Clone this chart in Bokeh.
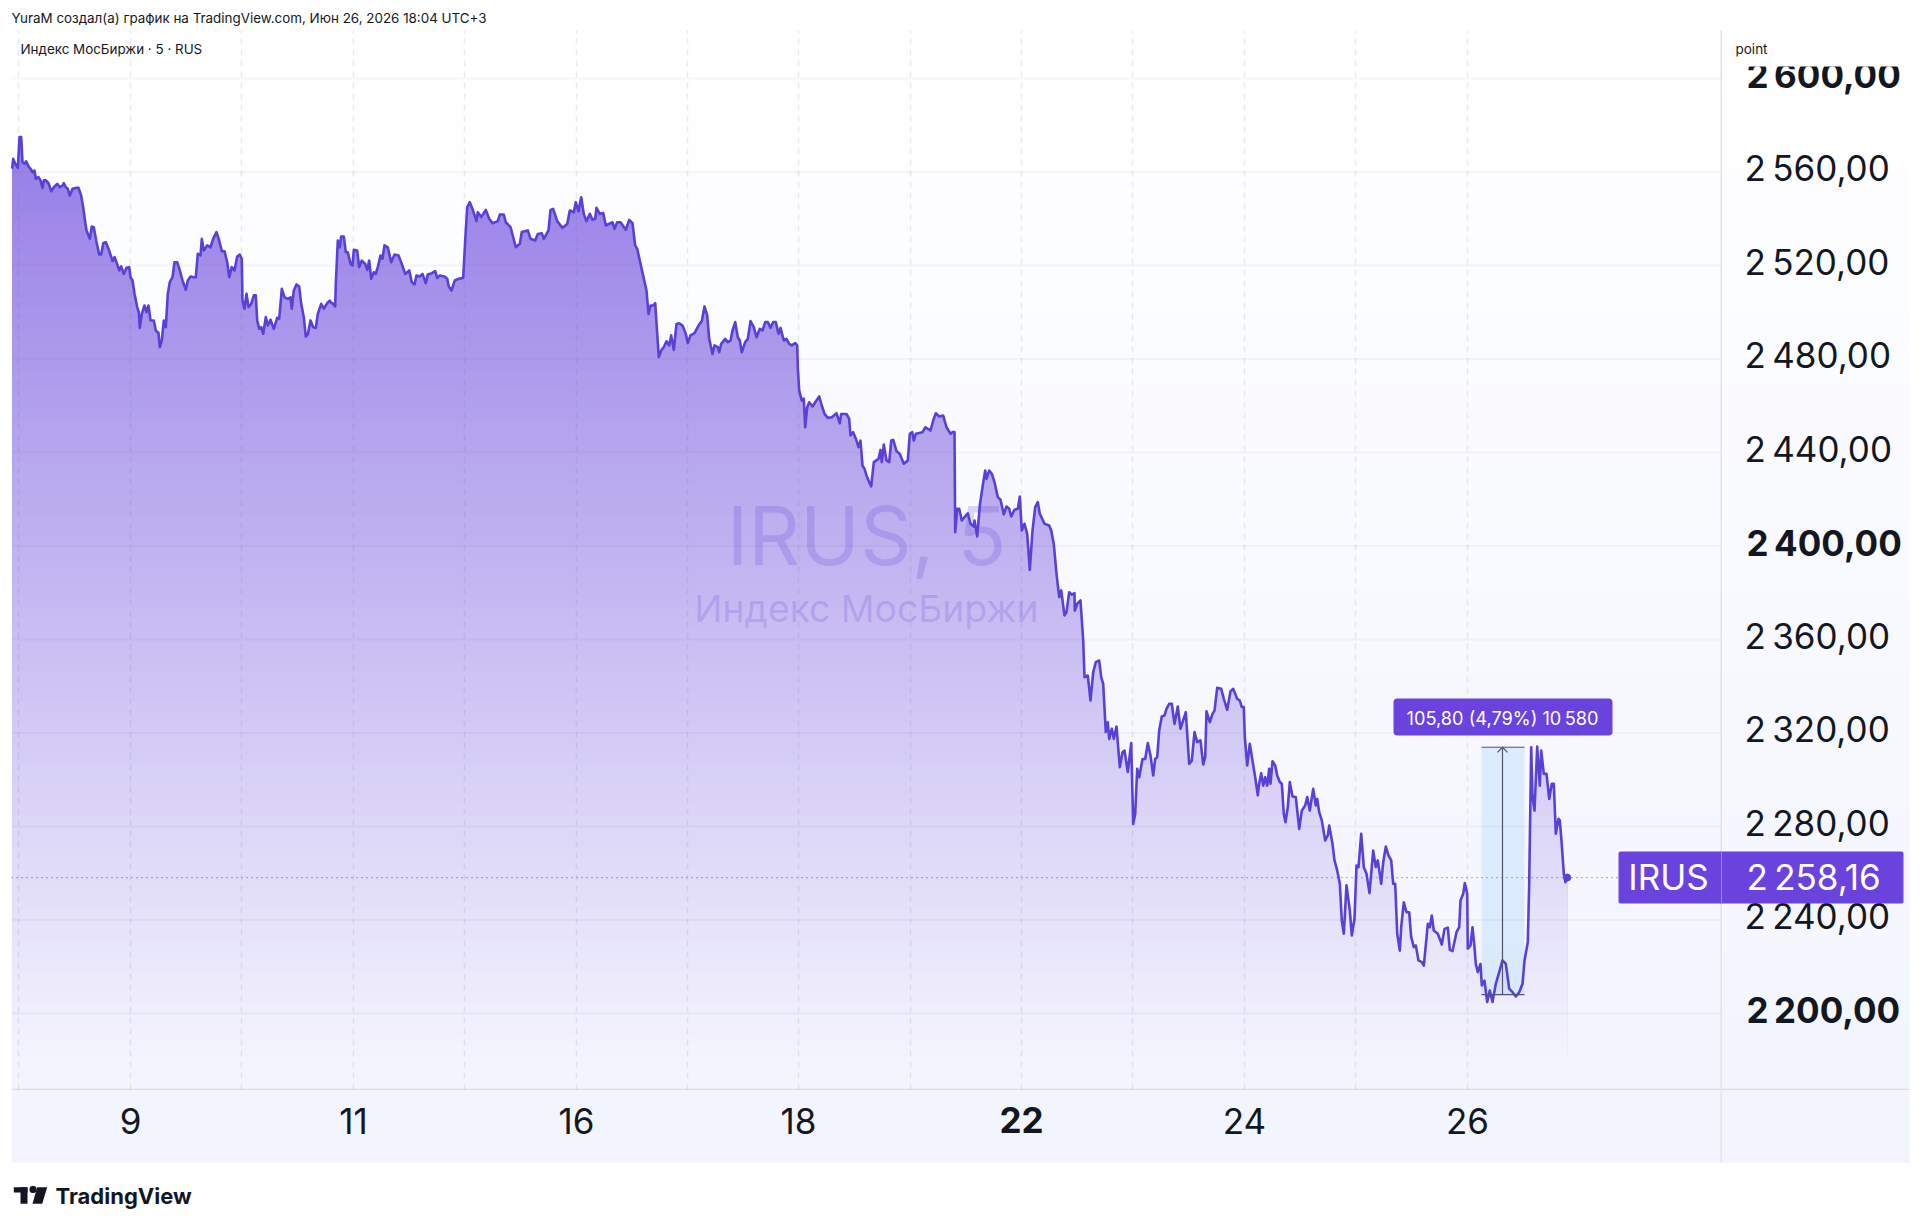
import numpy as np
from bokeh.embed import file_html
from bokeh.models import BoxAnnotation, FixedTicker, Label, Range1d, PolyAnnotation
from bokeh.plotting import figure
from bokeh.resources import INLINE

# ---------- data ----------
bar_pos = [
11.7,12.7,14.7,17.3,19,20.7,22,24,25.7,28,30,32,34,35.3,38,40,42,43.3,45.3,48,50.7,53.3,56.7,59.3,62,63.3,65.3,67.3,69.3,72,75.3,78,80.7,82.7,84,86,89.3,91.3,93.3,96,98.7,100.7,102.7,105.3,108.7,112,114,116,118.7,120.7,123.3,126,128.7,130,132,134,136.7,138.3,139.3,141.3,144,146,148,150,153.3,155.3,158,159.3,161.3,163.3,165.3,167.3,169.3,172,174,176.7,179.3,182,185.3,187.3,190,193.3,195.3,197.3,200,201.3,203.3,206.7,210,212.7,216,218.7,221.3,224,226.7,228.7,231.3,234,236.7,239.3,241.3,242,244,246,248,250.7,253.3,255.3,256.7,258.7,260.7,262.7,265.3,267.3,270,273.3,276.7,278.7,281.3,284,287.3,290,291.3,293.3,296,298.7,300.7,303.3,305.3,307.3,310,312.7,315.3,317.3,320.7,323.3,326.7,329.3,
330,332.7,334.7,335.3,337.3,339.3,340.7,343.3,345.3,347.3,350,352,353.3,356.7,358.7,361.3,364.7,366.7,368.7,370.7,373.3,375.3,377.3,380,382,384,387.3,390.7,394,398,401.3,404.7,408.7,411.3,414,416,419.3,422,425.3,427.3,431.3,434.7,436.7,439.3,444,446.7,448.3,451,454.3,458.3,462.7,464.7,466.7,469.3,472,476,477.3,480.7,485.3,488.7,492,497.3,499.3,503.3,505.3,510,512.7,515.3,519.3,521.3,527.3,530,534.7,537.3,541.3,543.3,548,550,552.7,556.7,562,566.7,569.3,573.3,575.3,578,580.7,583.3,586,589.3,592,594.7,596,599.3,602.7,605.3,612,614,616.7,620,625.3,628.7,632,634.7,636.7,639.3,
646,648,650,652.7,654.7,656.7,658.3,660.7,663.3,666,668.7,670.7,673.3,676,678.7,682,685.3,687.3,690,694,698,701.3,704,706.7,708.7,712,714,717.3,718.7,720.7,724.7,727.3,730,732,734.7,737.3,739.3,741.3,744.7,747.3,750,753.3,756,759.3,762,764.7,767.3,770,772.7,775.3,778,780,783.3,786,788.7,791.3,794.7,796.7,797.3,798.7,801.3,803.3,804.7,806.7,808.7,812,814.7,818.7,821.3,824,827.3,831.3,836,839.3,840.7,846,848.7,850,852.7,856,858,860,862,864,866,868.7,870.7,873.3,878,880,881.3,883.3,886,888.7,890.7,892.7,896,899.3,903.3,907.3,909.3,911.7,913.3,915.3,922,925,930,932.7,935.3,938.7,942.7,946,950,952,954,
954.7,956.7,958.7,961.3,965.3,967.3,970,973.3,974,976.7,979.3,982,984.7,986,988.7,991.3,994,997.3,1000,1003.3,1006,1008.7,1010.7,1014,1017.3,1019.3,1021.3,1024,1026.7,1029.3,1032,1034.7,1037.3,1039.3,1044,1048.7,1050.7,1053.3,1056,1058.7,1060.7,1064,1066,1068.7,1071.3,1074,1074.3,1076.7,1080,1082.7,1084,1087.3,1090,1092.7,1095.3,1098.7,1100.7,1102.7,1105.3,1107.3,1108.7,1111.3,1113.3,1116,1119.3,1122,1124,1127.3,1130.7,1132.7,1134.7,1136.7,1138.7,1142,1144.7,1147.3,1150,1152.7,1154.7,1156.7,1158.7,1161.3,1164,1166,1168.7,1171.3,1174,1177.3,1180,1185.3,1188.7,1191.3,1194,1196.7,1200,1202.7,1204.7,1206,1209.3,1212,1214,1216.7,1220.7,1223.3,1226.7,1230,1232.7,1236.7,1239.3,1241.3,1243.3,1244.3,1246.7,1249.3,1252,1254.7,1257.3,
1258.7,1260.7,1262.7,1264.7,1266.7,1268.7,1270,1272,1274.7,1276.7,1279.3,1281.3,1283.3,1285,1287.3,1289.3,1292,1295.3,1298.7,1301.3,1304.7,1306.7,1309.3,1312.7,1315.3,1316.7,1318.7,1321.3,1324.7,1327.3,1328.7,1332,1334,1336.7,1339.3,1341.3,1343.3,1346,1349.3,1351.3,1354,1356,1358,1360.7,1363.3,1366,1369,1372.7,1375.3,1377.3,1380.7,1382.7,1385.3,1388,1390.7,1392.7,1394.7,1396.7,1399.3,1400.7,1403.3,1406,1408.7,1410.7,1413.3,1415.3,1418,1421.3,1423.3,1425.3,1427.3,1429.3,1431.3,1433.3,1437.3,1441.3,1444,1447.3,1449.3,1452,1456,1458.7,1460,1462.7,1464.3,1466.7,1467.3,1470,1472,1474,1475.3,1477.3,1480,1481.3,1484,1486.7,1489.3,1492,1495.3,1498.7,1502,1505.3,1508.7,1512,1515.3,1518.7,1522,1524,1527.3,1528.7,1530.7,1532,1534,1536.7,1539.3,1540.7,1543.3,1546,1548.7,1551.3,1553.3,1555.3,1558,1559.3,1561,1563.3,1565,1566.7]
price = [
2561.4,2565.6,2563.5,2561.8,2574.9,2574.9,2564.2,2563.5,2564.6,2562.4,2561.4,2559.9,2560.6,2557.1,2557.8,2556.4,2553.2,2556.4,2556.4,2555.2,2551.8,2553.5,2554.9,2553.5,2554.2,2555.2,2553.5,2552.8,2549.9,2552.8,2553.2,2553.2,2549.9,2544.7,2540.7,2535,2531.4,2536.7,2536.4,2530,2524.7,2524.7,2529.5,2530,2526.4,2521.9,2523.6,2521.4,2517.9,2519.6,2516.4,2519,2519.3,2515,2513.6,2507.9,2502.2,2500,2493.3,2499.3,2502.9,2500,2502.9,2496.5,2496.5,2492.2,2491.1,2485.1,2487.9,2496.5,2493.6,2507.9,2512.9,2515,2521.4,2521.4,2517.9,2513.6,2509.6,2513.6,2515.3,2515,2515,2525,2524.3,2531.4,2526.4,2528.6,2527.8,2531.4,2534.3,2530.7,2526.1,2526.1,2521.4,2515,2519.3,2517.9,2523.8,2524.7,2522.8,2505,2501.5,2507.9,2502.2,2503.6,2507.2,2507.2,2496.5,2492.9,2493.6,2490.8,2497.9,2494.3,2496.8,2492.9,2497.6,2497.2,2510,2506.4,2505.7,2506.4,2501.5,2509.3,2511.9,2511,2503.6,2497.9,2489.6,2490.5,2496.5,2493.6,2493.3,2499.3,2503.6,2501.5,2503.9,2505,
2504.3,2503.6,2502.5,2512.2,2530.7,2527.8,2532.4,2532.4,2525.7,2525.7,2520.7,2520,2526.7,2526.4,2519.3,2522.1,2520.7,2518.1,2522.1,2514.3,2517.1,2516.4,2519.3,2524.3,2522.9,2528.6,2527.8,2521.4,2524.7,2524.3,2520.7,2516.4,2517.9,2512.9,2511.9,2515.7,2515.3,2516.4,2512.4,2516.2,2516.7,2517.6,2514.7,2515.7,2515.3,2514.3,2511,2509.3,2513.6,2514.3,2514.7,2530.7,2544.9,2547.1,2544.2,2539,2542.8,2540.7,2543.8,2540,2538.1,2539,2541.8,2541.8,2538.5,2536.4,2532.1,2527.8,2529.3,2534.3,2535,2531.4,2530.7,2533.5,2533.8,2531.4,2535,2543.8,2544.2,2539,2536.1,2537.8,2543.5,2542.8,2547.1,2543.2,2549.2,2542.1,2539,2542.1,2539.5,2540,2544.7,2542.1,2542.4,2537.1,2538.5,2535.7,2538.5,2538.5,2535.3,2539.5,2538.1,2528.6,2527.1,2522.1,
2509.3,2499.3,2502.9,2502.9,2503.9,2490.8,2480.8,2483.6,2485.1,2487.6,2485.8,2490.1,2483.9,2495,2495.3,2494.3,2490.8,2486.8,2490.1,2491.1,2494.3,2496.2,2502.5,2498.6,2488.6,2482.2,2485.8,2485.1,2482.9,2486.5,2488.6,2487.2,2487.9,2492.2,2495.8,2489.3,2487.9,2482.9,2487.2,2488.6,2496.2,2493.6,2489.3,2492.9,2492.2,2495.8,2495.8,2493.3,2495.8,2495.8,2490.8,2493.3,2487.9,2488.6,2486.5,2485.8,2486.8,2485.8,2476.5,2466.5,2462.2,2463,2450.8,2459.4,2461.5,2459.7,2461.5,2464,2460.1,2456.5,2454.8,2455.1,2456.8,2452.5,2456.5,2456.5,2454.4,2447.3,2448.7,2445.1,2442.3,2445.1,2434.4,2433,2430.2,2427.3,2425.5,2435.9,2437.3,2441.1,2435.9,2443.4,2436.6,2435.9,2445.1,2445.4,2440.6,2439.4,2435.2,2436.6,2448,2448.7,2445.1,2448,2448.7,2450.8,2449.4,2453.7,2456.8,2455.4,2455.8,2450.8,2448,2448.7,2448.7,
2405.9,2415.9,2415.9,2410.9,2413,2414,2409.5,2408.3,2410.9,2404.1,2417.3,2425.2,2432.3,2428.7,2432.3,2430.9,2427.3,2420.9,2419.8,2413.5,2416.9,2415.9,2412.6,2415.5,2415.9,2421.2,2406.6,2409.5,2405.2,2389.8,2406.6,2416.6,2418.8,2413.8,2409.5,2408.8,2406.6,2400.9,2388.1,2378.1,2381,2370.3,2371.7,2380.2,2379.2,2379.8,2372.4,2375.3,2376.7,2359.6,2343.9,2344.6,2333.9,2346,2350.3,2351,2343.9,2341,2320.4,2324.6,2317.5,2321.8,2317.5,2322.8,2305.4,2311.8,2312.5,2303.3,2315.7,2281.1,2285.4,2304.7,2301.1,2308.9,2308.9,2315.7,2310.4,2301.8,2308.9,2309.7,2321.1,2327.1,2327.5,2330.3,2332.5,2332.5,2323.9,2331.3,2321.8,2328.9,2306.8,2308.2,2320.4,2316.1,2316.8,2306.5,2309.7,2329.3,2324.6,2328.2,2329.6,2339.3,2338.9,2334.6,2329.9,2337.9,2338.9,2334.6,2333.9,2331.1,2331.1,2318.2,2306.1,2315.4,2308.2,2301.1,2293.3,
2298.3,2302.8,2297.5,2301.1,2297.5,2304.7,2298.3,2307.9,2306.1,2301.8,2299,2298.3,2285.4,2281.8,2288.3,2299,2292.8,2292.6,2279,2286.8,2289,2292.6,2286.8,2296.1,2289,2291.8,2286.1,2282.6,2274,2276.2,2280.4,2272.6,2265.5,2261.2,2255.5,2239.8,2234.1,2254.8,2244.1,2233.4,2240.5,2263.3,2262.6,2276.9,2262.6,2259.8,2251.5,2269.7,2262.6,2265.5,2255.5,2264.7,2271.4,2267.6,2265.5,2255.5,2255.5,2234.1,2226.9,2236.9,2247.6,2243.3,2243.3,2232.7,2228.4,2229.1,2222.7,2222,2220.5,2229.1,2238.4,2236.9,2241.9,2235.5,2234.1,2229.5,2236.2,2236.7,2227.2,2226.7,2234.8,2236.9,2248.3,2251.2,2255.8,2251.2,2227.7,2229.1,2236.9,2228.4,2221.2,2217.7,2221.2,2212,2214.1,2204.9,2209.8,2204.9,2212.7,2217.7,2222.7,2221.2,2210.6,2209.1,2207.3,2209.1,2212.7,2222.7,2230.5,2255.5,2313.9,2292.6,2286.8,2314.2,2297.5,2312.5,2302.5,2302.5,2291.8,2298.3,2298.3,2276.9,2283.3,2282.6,2274,2259.8,2256.2,2258.16]
last_price = 2258.16
price_ticks = [2560, 2520, 2480, 2440, 2360, 2320, 2280, 2240]
price_ticks_bold = [2600, 2400, 2200]
day_ticks = [130, 353, 576, 798, 1244, 1467]
day_labels = ["9", "11", "16", "18", "24", "26"]
day_tick_bold = 1021
day_label_bold = "22"
half_ticks = [18, 241, 464, 687, 910, 1132, 1355]
measure_low, measure_high = 2208.1, 2313.9
measure_left, measure_mid, measure_right = 1481, 1502, 1524

# ---------- layout helpers ----------
PX = 2.3375
LABEL_LIFT = 1.5                # price-scale labels sit slightly above their grid lines
def py(y):                      # canvas pixel row -> price
    return 2600 - (y - 78) / PX
def ypx(v):                     # price -> canvas pixel row
    return 78 + (2600 - v) * PX
def money(v):
    return f"{v:,.2f}".replace(",", "\u202f").replace(".", ",")

INK = "#131722"
FONT = "Inter"
PURPLE = "#6a42de"
LINE = "#5a41d6"
RIGHT = 1720                    # price scale position
BOTTOM = py(1089)               # time scale position
PANEL_TOP = py(30)

# the frame fills the page; both axes are pinned inside it with fixed_location
p = figure(width=1912, height=1221, output_backend="svg", toolbar_location=None,
           x_range=Range1d(0, 1912), y_range=Range1d(py(1221), py(0)),
           y_axis_location="right", min_border=0,
           background_fill_color=None, border_fill_color="white", outline_line_color=None)
p.grid.visible = False

def box(l, r, t, b, color, level="overlay", **kw):
    p.add_layout(BoxAnnotation(left=l, right=r, top=t, bottom=b, left_units="canvas", right_units="canvas",
                               top_units="canvas", bottom_units="canvas", fill_color=color, fill_alpha=1,
                               line_color=None, level=level, **kw))

def label(x, y, text, size, color=INK, align="left", style="normal", level="overlay", alpha=1.0):
    p.add_layout(Label(x=x, y=y, x_units="canvas", y_units="canvas", text=text, text_align=align,
                       text_baseline="middle", text_font=FONT, text_font_size=size, text_font_style=style,
                       text_color=color, text_alpha=alpha, level=level))

# panel background gradient
ys = np.linspace(30, 1162, 17)
for i in range(16):
    t = (i + 0.5) / 16
    col = "#%02x%02x%02x" % (round(255 - 13 * t), round(255 - 11 * t), round(255 - 1 * t))
    box(11, 1909, ys[i], ys[i + 1] + 0.6, col, level="image")
box(11, 1909, 1088.2, 1089.6, "#d9dcea", level="image")
box(1720, 1721.4, 30, 1162, "#dfe1ec", level="image")

# area under the line: opaque bands painted from top to bottom, giving the vertical fade
x = np.array(bar_pos)
y = np.array(price)
base = py(1055)
levels = np.linspace(py(130), base, 90)
for i, lev in enumerate(levels[:-1]):
    t = i / (len(levels) - 2)
    col = "#%02x%02x%02x" % (round(150 + 93 * t), round(125 + 118 * t), round(230 + 23 * t))
    p.varea(x=x, y1=np.full_like(x, base), y2=np.minimum(y, lev), fill_color=col, level="underlay")

# grid lines, limited to the chart pane
vt = sorted(half_ticks + day_ticks + [day_tick_bold])
p.segment(x0=vt, x1=vt, y0=[BOTTOM] * len(vt), y1=[PANEL_TOP] * len(vt), line_color="#5f6390",
          line_alpha=0.13, line_width=1.5, line_dash="6 5", level="underlay")
ht = price_ticks + price_ticks_bold
p.segment(x0=[11] * len(ht), x1=[RIGHT] * len(ht), y0=ht, y1=ht, line_color="#5f6390",
          line_alpha=0.055, line_width=2, level="underlay")

# axes
ay = p.yaxis[0]
ay.fixed_location = RIGHT
ay.ticker = FixedTicker(ticks=[t + LABEL_LIFT for t in price_ticks])
ay.major_label_overrides = {t + LABEL_LIFT: money(t) for t in price_ticks}
ay.major_label_text_font = FONT
ay.major_label_text_font_size = "35px"
ay.major_label_text_color = INK
ay.major_label_standoff = 18
ay.major_tick_line_color = None
ay.minor_tick_line_color = None
ay.axis_line_color = None
ax = p.xaxis[0]
ax.fixed_location = BOTTOM
ax.ticker = FixedTicker(ticks=day_ticks)
ax.major_label_overrides = dict(zip(day_ticks, day_labels))
ax.major_label_text_font = FONT
ax.major_label_text_font_size = "35px"
ax.major_label_text_color = INK
ax.major_label_standoff = 12
ax.major_tick_line_color = None
ax.minor_tick_line_color = None
ax.axis_line_color = None

# watermark
label(866, 535, "IRUS, 5", "80.5px", color="#5a3cd2", align="center", level="underlay", alpha=0.2)
label(866, 608, "Индекс МосБиржи", "37.3px", color="#5a3cd2", align="center", level="underlay", alpha=0.2)

# last price dotted line
p.segment(x0=[11], x1=[1618], y0=[last_price], y1=[last_price], line_color="#70748a", line_width=1.2,
          line_dash="1 4", level="underlay")

# price range measure
p.quad(left=[measure_left], right=[measure_right], top=[measure_high], bottom=[measure_low],
       fill_color="#2196f3", fill_alpha=0.12, line_color=None)

# price line
p.line(x, y, line_color=LINE, line_width=2.6, line_join="round")
p.scatter([bar_pos[-1]], [last_price], size=7, color=LINE)

mc = "#50556a"
p.segment(x0=[measure_left, measure_left, measure_mid], x1=[measure_right, measure_right, measure_mid],
          y0=[measure_high, measure_low, measure_low], y1=[measure_high, measure_low, measure_high],
          line_color=mc, line_width=1.2)
p.line([measure_mid - 5, measure_mid, measure_mid + 5],
       [measure_high - 2.2, measure_high, measure_high - 2.2], line_color=mc, line_width=1.2)

# bold tick labels
for t in price_ticks_bold:
    label(1746, ypx(t) - 3.5, money(t), "35px", style="bold", level="annotation")
label(day_tick_bold, 1119, day_label_bold, "35px", align="center", style="bold", level="annotation")

# white header above the price scale hides the top of the first label
box(1722, 1907, 34, 66, "#fefefe")
label(1735, 48, "point", "13.5px")

# price tag
box(1618, 1903, 851, 903, PURPLE, border_radius=2)
box(1720.5, 1721.5, 851, 903, "#9a82ea")
label(1668, 876, "IRUS", "35px", color="white", align="center")
label(1746, 876, money(last_price), "35px", color="white")

# measure tooltip
box(1393, 1612, 698, 735, PURPLE, border_radius=4)
label(1502, 717, "105,80 (4,79%) 10\u202f580", "18.2px", color="white", align="center")

# captions
label(11, 17, "YuraM создал(а) график на TradingView.com, Июн 26, 2026 18:04 UTC+3", "13.4px")
label(20, 48, "Индекс МосБиржи · 5 · RUS", "13.4px")

# TradingView mark
box(13.3, 27, 1186.7, 1192, INK)
box(20, 27, 1186.7, 1203.3, INK)
box(29, 36, 1185.5, 1192.5, INK, border_radius=3)
p.add_layout(PolyAnnotation(xs=[36.7, 46.7, 41.7, 32], ys=[1186.7, 1186.7, 1203.3, 1203.3],
                            xs_units="canvas", ys_units="canvas", fill_color=INK, fill_alpha=1, line_color=None))
label(55, 1195, "TradingView", "22px", style="bold")

open("out.html", "w").write(file_html(p, INLINE))
